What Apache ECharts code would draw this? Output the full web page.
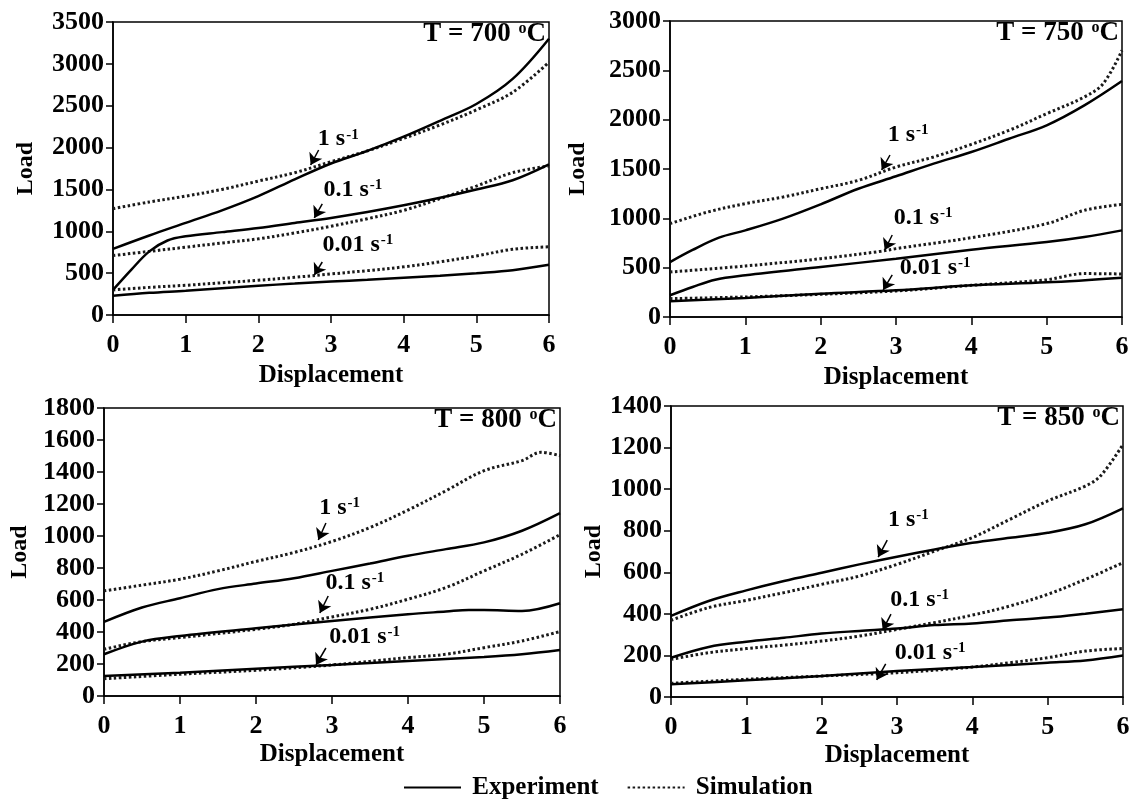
<!DOCTYPE html>
<html><head><meta charset="utf-8">
<script src="https://cdn.jsdelivr.net/npm/echarts@6/dist/echarts.min.js"></script>
<style>html,body{margin:0;padding:0;background:#fff}#c{width:1139px;height:799px}</style>
</head><body><div id="c"></div><script>
// ---------- data ----------
const temps = ['700', '750', '800', '850'];
const rateLabels = ['1', '0.1', '0.01'];
const yMax = [3500, 3000, 1800, 1400];
const yStep = [500, 500, 200, 200];

// T = 700 C
const exp700_1   = [[0,790],[0.5,950],[1,1100],[1.5,1250],[2,1420],[2.5,1620],[3,1810],[3.5,1960],[4,2130],[4.5,2320],[5,2520],[5.5,2820],[6,3300]];
const sim700_1   = [[0,1270],[0.5,1350],[1,1420],[1.5,1500],[2,1600],[2.5,1700],[3,1830],[3.5,1960],[4,2110],[4.5,2270],[5,2450],[5.5,2660],[6,3020]];
const exp700_01  = [[0,300],[0.25,540],[0.5,760],[0.75,890],[1,940],[1.5,990],[2,1040],[2.5,1100],[3,1160],[3.5,1230],[4,1310],[4.5,1400],[5,1500],[5.5,1610],[6,1800]];
const sim700_01  = [[0,710],[0.5,760],[1,810],[1.5,860],[2,910],[2.5,980],[3,1060],[3.5,1150],[4,1250],[4.5,1390],[5,1540],[5.5,1700],[6,1780]];
const exp700_001 = [[0,230],[0.5,265],[1,290],[1.5,320],[2,350],[2.5,375],[3,400],[3.5,420],[4,445],[4.5,470],[5,500],[5.5,535],[6,600]];
const sim700_001 = [[0,300],[0.5,330],[1,355],[1.5,385],[2,415],[2.5,450],[3,490],[3.5,530],[4,575],[4.5,635],[5,705],[5.5,785],[6,815]];

// T = 750 C
const exp750_1   = [[0,557],[0.3,680],[0.65,804],[1,878],[1.5,997],[2,1142],[2.5,1300],[3,1426],[3.5,1554],[4,1672],[4.5,1807],[5,1943],[5.5,2145],[6,2392]];
const sim750_1   = [[0,946],[0.5,1064],[1,1149],[1.5,1216],[2,1300],[2.5,1385],[3,1520],[3.5,1622],[4,1750],[4.5,1892],[5,2061],[5.5,2230],[5.75,2365],[6,2703]];
const exp750_01  = [[0,220],[0.3,304],[0.6,378],[1,422],[2,507],[3,591],[4,682],[5,760],[5.5,811],[6,878]];
const sim750_01  = [[0,456],[1,517],[2,591],[2.8,666],[3,693],[4,804],[5,946],[5.5,1081],[6,1142]];
const exp750_001 = [[0,159],[1,193],[2,236],[3,270],[4,321],[5,351],[6,399]];
const sim750_001 = [[0,186],[1,203],[2,230],[3,264],[4,321],[5,378],[5.5,440],[6,436]];

// T = 800 C
const exp800_1   = [[0,463],[0.5,553],[1,611],[1.5,668],[2,703],[2.5,736],[3,782],[3.5,828],[4,876],[4.5,918],[5,960],[5.5,1033],[6,1143]];
const sim800_1   = [[0,657],[0.5,693],[1,730],[1.5,782],[2,841],[2.5,897],[3,966],[3.5,1053],[4,1162],[4.5,1283],[5,1408],[5.5,1471],[5.75,1523],[6,1502]];
const exp800_01  = [[0,261],[0.5,340],[1,375],[2,423],[3,469],[4,511],[4.5,528],[4.8,538],[5,538],[5.5,532],[6,580]];
const sim800_01  = [[0,292],[0.5,340],[1,365],[2,417],[2.5,448],[3,494],[3.5,542],[4,605],[4.5,678],[5,782],[5.5,886],[6,1008]];
const exp800_001 = [[0,125],[1,146],[2,171],[3,194],[4,219],[5,244],[5.5,261],[6,288]];
const sim800_001 = [[0,108],[1,136],[2,161],[3,194],[4,240],[4.5,261],[5,302],[5.5,344],[6,403]];

// T = 850 C
const exp850_1   = [[0,390],[0.5,462],[1,513],[1.5,558],[2,598],[2.5,638],[3,675],[3.5,710],[4,742],[4.5,766],[5,790],[5.5,831],[6,908]];
const sim850_1   = [[0,369],[0.5,430],[1,465],[1.5,502],[2,542],[2.5,582],[3,638],[3.5,702],[4,767],[4.5,855],[5,943],[5.5,1015],[5.7,1063],[6,1215]];
const exp850_01  = [[0,189],[0.5,241],[1,266],[1.5,285],[2,305],[2.5,318],[3,330],[3.5,346],[4,354],[4.5,369],[5,382],[5.5,401],[6,422]];
const sim850_01  = [[0,181],[0.5,213],[1,233],[1.5,250],[2,269],[2.5,293],[3,325],[3.5,358],[4,394],[4.5,438],[5,494],[5.5,566],[6,646]];
const exp850_001 = [[0,61],[1,80],[2,101],[3,125],[4,144],[5,165],[5.5,176],[6,200]];
const sim850_001 = [[0,66],[1,85],[2,101],[3,117],[4,144],[4.5,165],[5,189],[5.5,221],[6,233]];

const expData = [[exp700_1, exp700_01, exp700_001], [exp750_1, exp750_01, exp750_001],
                 [exp800_1, exp800_01, exp800_001], [exp850_1, exp850_01, exp850_001]];
const simData = [[sim700_1, sim700_01, sim700_001], [sim750_1, sim750_01, sim750_001],
                 [sim800_1, sim800_01, sim800_001], [sim850_1, sim850_01, sim850_001]];

// annotation label anchors (data coords) and arrows [start, tip] in data coords
const labelPos = [
  [[3.1, 2100], [3.3, 1493], [3.37, 836]],
  [[3.16, 1845], [3.36, 1003], [3.52, 497]],
  [[3.1, 1175], [3.3, 706], [3.43, 369]],
  [[3.15, 852], [3.3, 467], [3.44, 212]]
];
const arrowPos = [
  [[[2.83, 1971], [2.72, 1792]], [[2.88, 1326], [2.77, 1159]], [[2.88, 633], [2.77, 478]]],
  [[[2.92, 1642], [2.81, 1490]], [[2.95, 831], [2.85, 679]], [[2.95, 426], [2.83, 274]]],
  [[[2.92, 1081], [2.82, 975]], [[2.95, 625], [2.84, 519]], [[2.92, 300], [2.79, 194]]],
  [[[2.87, 755], [2.75, 673]], [[2.92, 399], [2.81, 322]], [[2.85, 159], [2.73, 82]]]
];

// ---------- layout ----------
const FONT = 'Liberation Serif';
const grids = [
  {left: 113, top: 22, width: 436, height: 293},
  {left: 670, top: 21, width: 452, height: 296},
  {left: 104, top: 408, width: 456, height: 288},
  {left: 671, top: 406, width: 452, height: 291}
];
const yNameGap = [75, 80, 72, 63];
const xNameGap = [48, 48, 46, 46];

const chart = echarts.init(document.getElementById('c'), null, {renderer: 'canvas'});

const supRich = {
  a: {fontFamily: FONT, fontWeight: 'bold', fontSize: 24, color: '#000', textBorderWidth: 0},
  s: {fontFamily: FONT, fontWeight: 'bold', fontSize: 15, color: '#000', textBorderWidth: 0, verticalAlign: 'top', padding: [0, 0, 0, 1]}
};
const titleRich = {
  a: {fontFamily: FONT, fontWeight: 'bold', fontSize: 27, color: '#000'},
  s: {fontFamily: FONT, fontWeight: 'bold', fontSize: 16, color: '#000', verticalAlign: 'top', padding: [0, 0, 0, 1]}
};

const option = {
  animation: false,
  backgroundColor: '#fff',
  title: grids.map((g, i) => ({
    text: '{a|T = ' + temps[i] + ' }{s|o}{a|C}',
    right: 1139 - (g.left + g.width) + 3,
    top: g.top - 1,
    padding: 0,
    textStyle: {rich: titleRich}
  })),
  legend: {
    data: ['Experiment', 'Simulation'],
    left: 398, top: 770,
    itemWidth: 57, itemHeight: 14, itemGap: 28,
    itemStyle: {opacity: 0},
    formatter: n => ' ' + n,
    textStyle: {fontFamily: FONT, fontWeight: 'bold', fontSize: 25, color: '#000'}
  },
  grid: grids.map(g => Object.assign({show: true, borderColor: '#000', borderWidth: 1.5, backgroundColor: 'transparent'}, g)),
  xAxis: grids.map((g, i) => ({
    type: 'value', gridIndex: i, min: 0, max: 6, interval: 1,
    name: 'Displacement', nameLocation: 'middle', nameGap: xNameGap[i],
    nameTextStyle: {fontFamily: FONT, fontWeight: 'bold', fontSize: 25, color: '#000'},
    axisLine: {lineStyle: {color: '#000', width: 1.5}},
    axisTick: {show: true, inside: false, length: 8, lineStyle: {color: '#000', width: 1.5}},
    axisLabel: {fontFamily: FONT, fontWeight: 'bold', fontSize: 26, color: '#000', margin: 17},
    splitLine: {show: false}
  })),
  yAxis: grids.map((g, i) => ({
    type: 'value', gridIndex: i, min: 0, max: yMax[i], interval: yStep[i],
    name: 'Load', nameLocation: 'middle', nameGap: yNameGap[i],
    nameTextStyle: {fontFamily: FONT, fontWeight: 'bold', fontSize: 24, color: '#000'},
    axisLine: {show: true, lineStyle: {color: '#000', width: 1.5}},
    axisTick: {show: true, inside: false, length: 7, lineStyle: {color: '#000', width: 1.5}},
    axisLabel: {fontFamily: FONT, fontWeight: 'bold', fontSize: 26, color: '#000', margin: 9, formatter: v => String(v)},
    splitLine: {show: false}
  })),
  series: []
};

for (let i = 0; i < 4; i++) {
  for (let r = 0; r < 3; r++) {
    option.series.push({
      type: 'line', name: 'Experiment', xAxisIndex: i, yAxisIndex: i,
      data: expData[i][r], smooth: 0.35, symbol: 'none', showSymbol: false,
      lineStyle: {color: '#000', width: 2.5, type: 'solid'}, itemStyle: {color: '#000'}, z: 3
    });
    option.series.push({
      type: 'line', name: 'Simulation', xAxisIndex: i, yAxisIndex: i,
      data: simData[i][r], smooth: 0.35, symbol: 'none', showSymbol: false,
      lineStyle: {color: '#1a1a1a', width: 3, type: [2.5, 2.5], cap: 'butt'}, itemStyle: {color: '#1a1a1a'}, z: 2
    });
  }
  option.series.push({
    type: 'scatter', xAxisIndex: i, yAxisIndex: i, symbolSize: 0, silent: true, z: 5,
    itemStyle: {color: '#000', opacity: 1},
    data: labelPos[i].map((p, r) => ({
      value: p,
      label: {show: true, position: 'inside', color: '#000', textBorderWidth: 0, opacity: 1,
              formatter: '{a|' + rateLabels[r] + ' s}{s|-1}', rich: supRich}
    })),
    markLine: {
      silent: true, symbol: ['none', 'arrow'], symbolSize: 11, precision: 3,
      label: {show: false}, emphasis: {disabled: true},
      itemStyle: {color: '#000', opacity: 1},
      lineStyle: {color: '#000', width: 1.5, type: 'solid', opacity: 1},
      data: arrowPos[i].map(a => [{coord: a[0]}, {coord: a[1]}])
    }
  });
}

chart.setOption(option);
</script></body></html>
